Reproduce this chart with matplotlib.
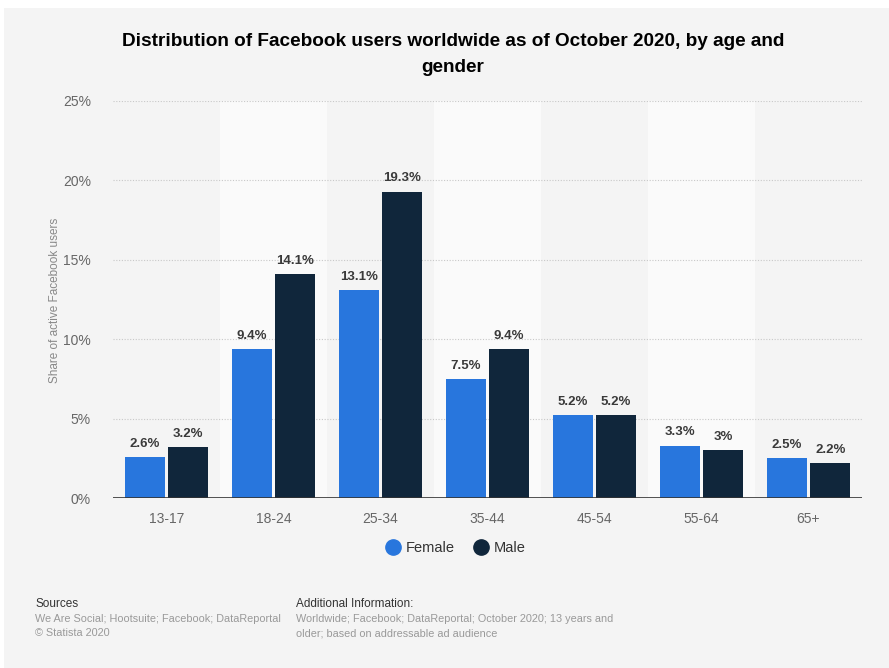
import matplotlib.pyplot as plt
import numpy as np
from matplotlib.patches import Rectangle

plt.rcParams['font.family'] = ['Liberation Sans', 'DejaVu Sans']

ages = ["13-17", "18-24", "25-34", "35-44", "45-54", "55-64", "65+"]
female = [2.6, 9.4, 13.1, 7.5, 5.2, 3.3, 2.5]
male = [3.2, 14.1, 19.3, 9.4, 5.2, 3.0, 2.2]
female_labels = ["2.6%", "9.4%", "13.1%", "7.5%", "5.2%", "3.3%", "2.5%"]
male_labels = ["3.2%", "14.1%", "19.3%", "9.4%", "5.2%", "3%", "2.2%"]
yticks = [0, 5, 10, 15, 20, 25]

BLUE = "#2876dd"
NAVY = "#10263b"
BG = "#f4f4f4"

fig = plt.figure(figsize=(8.89, 6.68), dpi=100, facecolor="white")
# gray card with a thin white margin at top/left like the screenshot
fig.patches.append(Rectangle((4 / 889, 0), 1, 1 - 8 / 668, transform=fig.transFigure,
                             facecolor=BG, edgecolor="none", zorder=-10))

ax = fig.add_axes([113 / 889, 1 - 498 / 668, (862 - 113) / 889, (498 - 101) / 668])
ax.set_facecolor(BG)

x = np.arange(len(ages))
w = 0.378
off = 0.203

# alternating lighter bands
for i in x:
    if i % 2 == 1:
        ax.axvspan(i - 0.5, i + 0.5, color="#fafafa", zorder=0, lw=0)

for y in yticks[1:]:
    ax.axhline(y, color="#c8c8c8", lw=0.8, ls=(0, (1, 1.5)), zorder=1)

bf = ax.bar(x - off, female, w, color=BLUE, zorder=2, label="Female")
bm = ax.bar(x + off, male, w, color=NAVY, zorder=2, label="Male")

for rect, lab in zip(bf, female_labels):
    ax.text(rect.get_x() + rect.get_width() / 2, rect.get_height() + 0.45, lab,
            ha="center", va="bottom", fontsize=9.5, fontweight="bold", color="#3a3a3a")
for rect, lab in zip(bm, male_labels):
    ax.text(rect.get_x() + rect.get_width() / 2, rect.get_height() + 0.45, lab,
            ha="center", va="bottom", fontsize=9.5, fontweight="bold", color="#3a3a3a")

ax.axhline(0, color="#333333", lw=1.2, zorder=3)
ax.set_xlim(-0.5, len(ages) - 0.5)
ax.set_ylim(0, 25)
ax.set_yticks(yticks)
ax.set_yticklabels([f"{t}%" for t in yticks])
ax.set_xticks(x)
ax.set_xticklabels(ages)
ax.tick_params(axis="both", length=0, labelsize=10, colors="#666666")
ax.tick_params(axis="y", pad=16)
ax.tick_params(axis="x", pad=10)
for s in ax.spines.values():
    s.set_visible(False)

fig.text(55 / 889, 1 - 300 / 668, "Share of active Facebook users", rotation=90,
         ha="center", va="center", fontsize=8.5, color="#888888")

fig.text(453 / 889, 1 - 41 / 668, "Distribution of Facebook users worldwide as of October 2020, by age and",
         ha="center", va="center", fontsize=13.7, fontweight="bold", color="#000000")
fig.text(453 / 889, 1 - 68 / 668, "gender",
         ha="center", va="center", fontsize=13.7, fontweight="bold", color="#000000")

leg = fig.legend(handles=[
    plt.Line2D([], [], marker="o", ls="", color=BLUE, markersize=11, label="Female"),
    plt.Line2D([], [], marker="o", ls="", color=NAVY, markersize=11, label="Male")],
    loc="center", bbox_to_anchor=(455 / 889, 1 - 548 / 668), ncol=2, frameon=False,
    fontsize=10.5, handletextpad=0.3, columnspacing=1.2, handlelength=1.2)
for t in leg.get_texts():
    t.set_color("#333333")

fig.text(35 / 889, 1 - 604 / 668, "Sources", fontsize=8.5, color="#333333", va="center")
fig.text(35 / 889, 1 - 619 / 668, "We Are Social; Hootsuite; Facebook; DataReportal",
         fontsize=7.8, color="#999999", va="center")
fig.text(35 / 889, 1 - 633 / 668, "\u00a9 Statista 2020", fontsize=7.8, color="#999999", va="center")
fig.text(296 / 889, 1 - 604 / 668, "Additional Information:", fontsize=8.5, color="#333333", va="center")
fig.text(296 / 889, 1 - 619 / 668, "Worldwide; Facebook; DataReportal; October 2020; 13 years and",
         fontsize=7.8, color="#999999", va="center")
fig.text(296 / 889, 1 - 633 / 668, "older; based on addressable ad audience",
         fontsize=7.8, color="#999999", va="center")

fig.savefig("out.png", dpi=100, facecolor=fig.get_facecolor())
